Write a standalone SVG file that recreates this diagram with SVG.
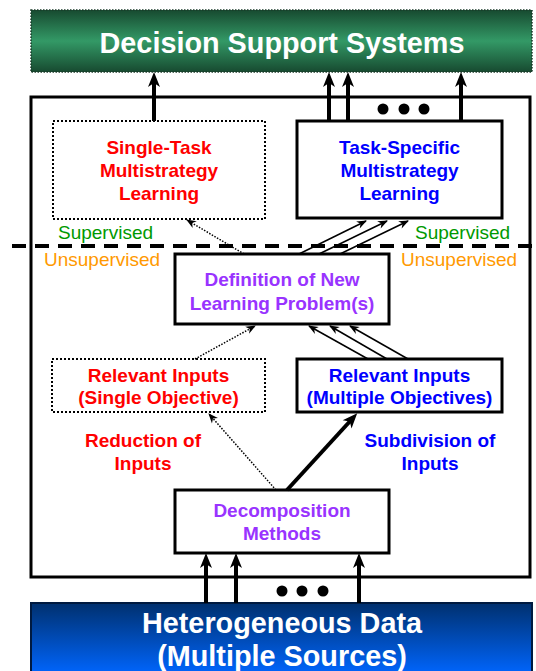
<svg xmlns="http://www.w3.org/2000/svg" width="536" height="671" viewBox="0 0 536 671">
<defs>
<linearGradient id="gGreen" x1="0" y1="0" x2="0" y2="1">
<stop offset="0" stop-color="#174a30"/>
<stop offset="0.5" stop-color="#339966"/>
<stop offset="1" stop-color="#174a30"/>
</linearGradient>
<linearGradient id="gBlue" x1="0" y1="0" x2="0" y2="1">
<stop offset="0" stop-color="#00306e"/>
<stop offset="1" stop-color="#0066ff"/>
</linearGradient>
<marker id="ahT" markerUnits="userSpaceOnUse" markerWidth="16" markerHeight="12" refX="8" refY="6" orient="auto" overflow="visible">
<path d="M15,6 L0,0 L4,6 L0,12 Z" fill="#000"/>
</marker>
<marker id="ahS" markerUnits="userSpaceOnUse" markerWidth="11" markerHeight="8" refX="9" refY="4" orient="auto" overflow="visible">
<path d="M10,4 L0,0 L3,4 L0,8 Z" fill="#000"/>
</marker>
</defs>
<style>
text{font-family:"Liberation Sans",Arial,sans-serif;}
.b{font-weight:bold;font-size:19px;text-anchor:middle;}
.n{font-size:19px;}
.big{font-weight:bold;font-size:28.8px;text-anchor:middle;fill:#fff;}
.box{fill:#fff;stroke:#000;stroke-width:3;}
.dbox{fill:#fff;stroke:#000;stroke-width:2;stroke-dasharray:2 2;}
.thick{stroke:#000;stroke-width:4;fill:none;marker-end:url(#ahT);}
.thin{stroke:#000;stroke-width:1.5;fill:none;marker-end:url(#ahS);}
.dot{stroke:#000;stroke-width:1.5;stroke-dasharray:1.5 1.5;fill:none;marker-end:url(#ahS);}
.red{fill:#ff0000;}
.blue{fill:#0000ff;}
.purple{fill:#9933ff;}
.green{fill:#009900;}
.orange{fill:#ff9900;}
</style>

<g id="outer">
<rect x="31" y="97" width="499" height="480" fill="#fff" stroke="#000" stroke-width="3"/>
</g>

<g id="dss">
<rect x="31" y="10" width="501" height="62" fill="url(#gGreen)" stroke="#1a3a28" stroke-width="1.5" stroke-dasharray="1.5 1.5"/>
<text class="big" x="282" y="53">Decision Support Systems</text>
</g>

<g id="data">
<rect x="31" y="603" width="501" height="72" fill="url(#gBlue)" stroke="#001a40" stroke-width="2"/>
<text class="big" x="282" y="633">Heterogeneous Data</text>
<text class="big" x="282" y="666">(Multiple Sources)</text>
</g>

<g id="singleTask">
<rect class="dbox" x="53" y="121" width="212" height="98"/>
<text class="b red" x="159" y="154">Single-Task</text>
<text class="b red" x="159" y="177">Multistrategy</text>
<text class="b red" x="159" y="200">Learning</text>
</g>

<g id="taskSpecific">
<rect class="box" x="297" y="121" width="205" height="97"/>
<text class="b blue" x="399.5" y="154">Task-Specific</text>
<text class="b blue" x="399.5" y="177">Multistrategy</text>
<text class="b blue" x="399.5" y="200">Learning</text>
</g>

<g id="labels">
<text class="n green" x="58" y="239">Supervised</text>
<text class="n green" x="415" y="239">Supervised</text>
<text class="n orange" x="44" y="266">Unsupervised</text>
<text class="n orange" x="401" y="266">Unsupervised</text>
<text class="b red" x="143" y="447">Reduction of</text>
<text class="b red" x="143" y="470">Inputs</text>
<text class="b blue" x="430" y="447">Subdivision of</text>
<text class="b blue" x="430" y="470">Inputs</text>
</g>

<g id="definition">
<rect class="box" x="175" y="254" width="214" height="70"/>
<text class="b purple" x="282" y="286">Definition of New</text>
<text class="b purple" x="282" y="310">Learning Problem(s)</text>
</g>

<g id="relevantSingle">
<rect class="dbox" x="52" y="359" width="213" height="53"/>
<text class="b red" x="158.5" y="382">Relevant Inputs</text>
<text class="b red" x="158.5" y="404">(Single Objective)</text>
</g>

<g id="relevantMultiple">
<rect class="box" x="297" y="359" width="205" height="53"/>
<text class="b blue" x="399.5" y="382">Relevant Inputs</text>
<text class="b blue" x="399.5" y="404">(Multiple Objectives)</text>
</g>

<g id="decomposition">
<rect class="box" x="175" y="490" width="214" height="63"/>
<text class="b purple" x="282" y="517">Decomposition</text>
<text class="b purple" x="282" y="540">Methods</text>
</g>

<g id="connectors">
<line x1="12" y1="246" x2="536" y2="246" stroke="#000" stroke-width="4" stroke-dasharray="14 9"/>
<line class="thick" x1="154" y1="121" x2="154" y2="79"/>
<line class="thick" x1="329" y1="121" x2="329" y2="79"/>
<line class="thick" x1="348" y1="121" x2="348" y2="79"/>
<line class="thick" x1="461" y1="121" x2="461" y2="79"/>
<line class="thin" x1="299" y1="254" x2="366" y2="221"/>
<line class="thin" x1="319" y1="254" x2="387" y2="221"/>
<line class="thin" x1="340" y1="254" x2="408" y2="221"/>
<line class="dot" x1="244" y1="254" x2="187" y2="220"/>
<line class="thin" x1="368" y1="359" x2="309" y2="326"/>
<line class="thin" x1="387" y1="359" x2="330" y2="326"/>
<line class="thin" x1="408" y1="359" x2="350" y2="326"/>
<line class="dot" x1="195" y1="359" x2="255" y2="326"/>
<line class="dot" x1="276" y1="490" x2="209" y2="414"/>
<line class="thick" x1="287" y1="490" x2="352.5" y2="418.5" stroke-width="3.5"/>
<line class="thick" x1="206" y1="603" x2="206" y2="560"/>
<line class="thick" x1="236" y1="603" x2="236" y2="560"/>
<line class="thick" x1="359" y1="603" x2="359" y2="560"/>
<circle cx="383" cy="109" r="5.5"/>
<circle cx="404" cy="109" r="5.5"/>
<circle cx="424" cy="109" r="5.5"/>
<circle cx="282" cy="591" r="5.5"/>
<circle cx="302" cy="591" r="5.5"/>
<circle cx="323" cy="591" r="5.5"/>
</g>
</svg>
